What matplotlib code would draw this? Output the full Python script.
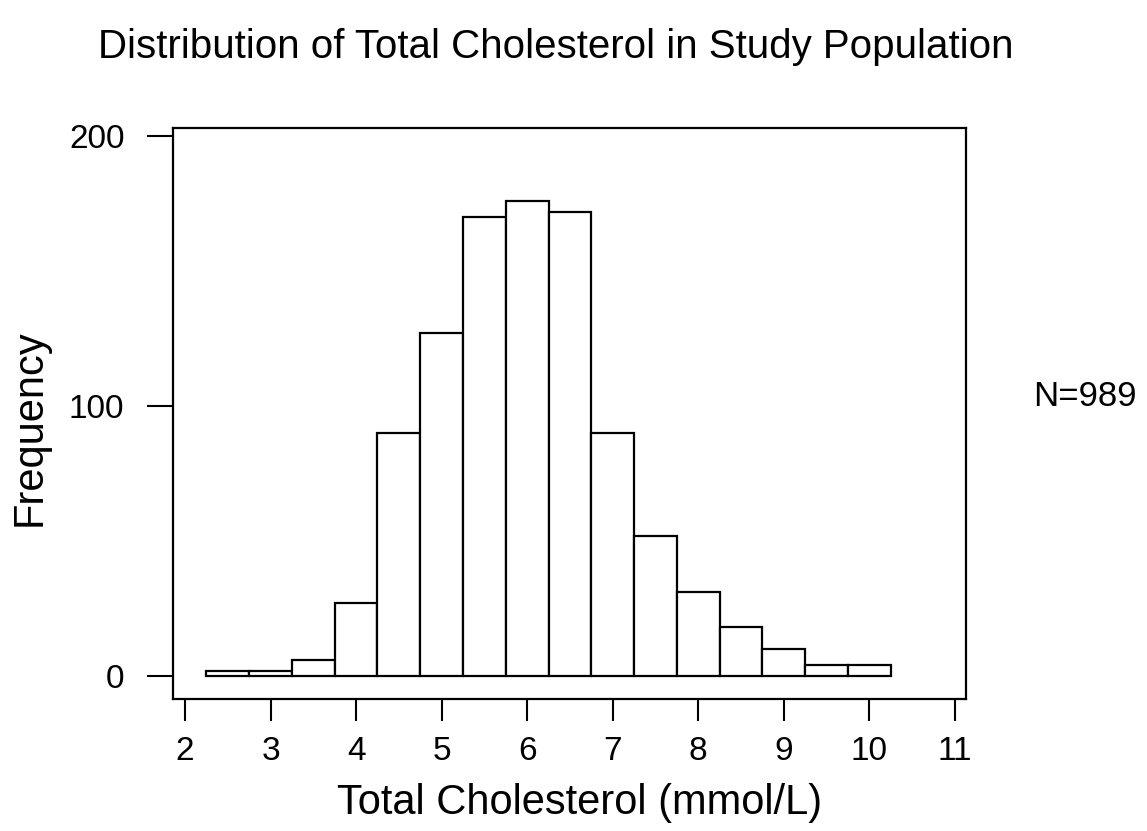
import matplotlib
matplotlib.use("Agg")
import matplotlib.pyplot as plt

plt.rcParams["font.family"] = ["Liberation Sans", "DejaVu Sans"]

# histogram bins (mmol/L), width 0.5
bin_centers = [2.5, 3.0, 3.5, 4.0, 4.5, 5.0, 5.5, 6.0, 6.5, 7.0, 7.5, 8.0, 8.5, 9.0, 9.5, 10.0]
counts = [2, 2, 6, 27, 90, 127, 170, 176, 172, 90, 52, 31, 18, 10, 4, 4]
bin_width = 0.5

x_ticks = [2, 3, 4, 5, 6, 7, 8, 9, 10, 11]
y_ticks = [0, 100, 200]
n_total = 989

W, H = 1147, 831
fig = plt.figure(figsize=(W / 100, H / 100), dpi=100)


def fx(px):
    return px / W


def fy(py):
    return 1 - py / H


ax = fig.add_axes([fx(173), fy(699), fx(966) - fx(173), fy(128) - fy(699)])
ax.bar(bin_centers, counts, width=bin_width, color="white",
       edgecolor="black", linewidth=1.6)

ax.set_xlim(1.86, 11.13)
ax.set_ylim(-8.5, 203)
ax.set_xticks(x_ticks)
ax.set_yticks(y_ticks)
for side in ax.spines.values():
    side.set_linewidth(1.6)
ax.tick_params(axis="y", direction="out", length=19, width=1.5,
               pad=16, labelsize=24)
ax.tick_params(axis="x", direction="out", length=15.5, width=1.5,
               pad=11, labelsize=24)

fig.text(fx(556), fy(47), "Distribution of Total Cholesterol in Study Population",
         ha="center", va="center", fontsize=29)
fig.text(fx(580), fy(803), "Total Cholesterol (mmol/L)",
         ha="center", va="center", fontsize=30)
fig.text(fx(30), fy(428), "Frequency", rotation=90,
         ha="center", va="center", fontsize=30)
fig.text(fx(1033), fy(396), f"N={n_total}", ha="left", va="center", fontsize=25)

fig.savefig("out.png", dpi=100, facecolor="white")
